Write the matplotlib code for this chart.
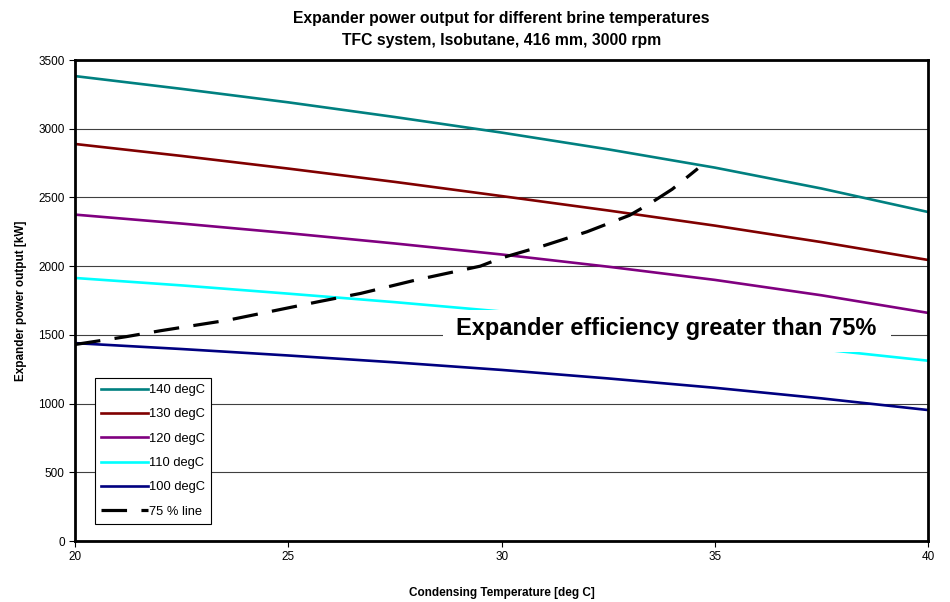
import matplotlib.pyplot as plt
from matplotlib.patches import Rectangle

# condensing temperature [deg C]
temp = [20, 22.5, 25, 27.5, 30, 32.5, 35, 37.5, 40]

# expander power output [kW] per brine temperature
p140 = [3383, 3290, 3192, 3085, 2972, 2850, 2717, 2565, 2394]
p130 = [2889, 2802, 2710, 2613, 2510, 2405, 2295, 2175, 2045]
p120 = [2375, 2310, 2240, 2165, 2085, 1996, 1900, 1788, 1660]
p110 = [1914, 1860, 1800, 1738, 1670, 1595, 1505, 1395, 1312]
p100 = [1440, 1397, 1350, 1300, 1245, 1183, 1115, 1038, 953]

# 75 % efficiency line
line75_x = [20, 21.2, 22, 23.6, 25.7, 26.7, 28, 29.5, 30, 31, 32, 32.5, 33, 33.5, 34, 34.6]
line75_y = [1430, 1487, 1530, 1608, 1741, 1802, 1900, 2000, 2060, 2150, 2250, 2310, 2370, 2460, 2560, 2710]

plt.rcParams['font.family'] = ['Liberation Sans', 'DejaVu Sans']

fig = plt.figure(figsize=(9.5, 6.02), dpi=100)
ax = fig.add_axes([0.079, 0.1013, 0.898, 0.799])

lw = 1.9
ax.plot(temp, p140, color='#008080', lw=lw, label='140 degC')
ax.plot(temp, p130, color='#800000', lw=lw, label='130 degC')
ax.plot(temp, p120, color='#800080', lw=lw, label='120 degC')
ax.plot(temp, p110, color='#00FFFF', lw=lw, label='110 degC')
ax.plot(temp, p100, color='#000080', lw=lw, label='100 degC')
ax.plot(line75_x, line75_y, color='black', lw=2.3, dashes=(8, 4.5), label='75 % line')

# white label box that hides grid and lines behind the annotation
ax.add_patch(Rectangle((28.63, 1378), 10.5, 300, facecolor='white', edgecolor='none', zorder=4))
ax.text(33.87, 1499, 'Expander efficiency greater than 75%', fontsize=17, fontweight='bold',
        ha='center', va='baseline', zorder=5)

ax.set_xlim(20, 40)
ax.set_ylim(0, 3500)
ax.set_xticks([20, 25, 30, 35, 40])
ax.set_yticks(range(0, 3501, 500))
ax.grid(axis='y', color='#404040', lw=0.8)
ax.set_axisbelow(True)
for s in ax.spines.values():
    s.set_linewidth(2)
    s.set_zorder(6)
ax.tick_params(labelsize=8.5, length=4)

ax.set_xlabel('Condensing Temperature [deg C]', fontsize=8.5, fontweight='bold', labelpad=17)
ax.set_ylabel('Expander power output [kW]', fontsize=8.5, fontweight='bold', labelpad=8)
ax.set_title('Expander power output for different brine temperatures\nTFC system, Isobutane, 416 mm, 3000 rpm',
             fontsize=11.3, fontweight='bold', pad=11, linespacing=1.55)

leg = ax.legend(loc='lower left', bbox_to_anchor=(0.023, 0.035), fontsize=9.3,
                frameon=True, fancybox=False, edgecolor='black', framealpha=1,
                handlelength=3.6, handletextpad=0.1, labelspacing=0.95, borderaxespad=0,
                borderpad=0.5)
leg.get_frame().set_linewidth(0.8)

fig.savefig('out.png', dpi=100)
